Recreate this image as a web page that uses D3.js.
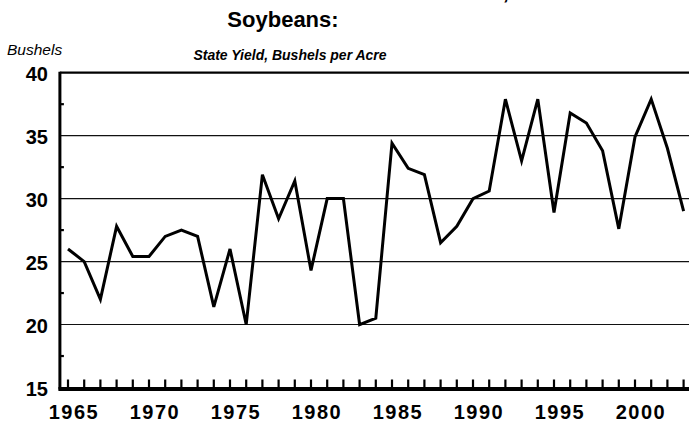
<!DOCTYPE html>
<html>
<head>
<meta charset="utf-8">
<script src="https://cdn.jsdelivr.net/npm/d3@7"></script>
<style>
  body { margin: 0; background: #fff; }
  svg { display: block; }
</style>
</head>
<body>
<script>
"use strict";

// yield per year, bushels per acre
const years = d3.range(1965, 2004);
const yieldVals = [26, 25, 22, 27.8, 25.4, 25.4, 27, 27.5, 27, 21.4,
                   26, 20, 31.9, 28.4, 31.4, 24.3, 30, 30, 20, 20.5,
                   34.4, 32.4, 31.9, 26.5, 27.8, 30, 30.6, 37.9, 33, 37.9,
                   28.9, 36.8, 36, 33.8, 27.6, 34.9, 37.9, 34, 29];
const yTicks = [15, 20, 25, 30, 35, 40];
const yGrid = [20, 25, 30, 35];
const yMinor = [17.5, 22.5, 27.5, 32.5, 37.5];
const xLabels = [1965, 1970, 1975, 1980, 1985, 1990, 1995, 2000];

const width = 689, height = 426;
const font = "'Liberation Sans', Arial, sans-serif";

const svg = d3.select("body").append("svg")
    .attr("width", width).attr("height", height);

const xScale = d3.scaleLinear().domain([1964.5, 2003]).range([59.9, 683.6]);
const yScale = d3.scaleLinear().domain([15, 40]).range([387.5, 72.7]);
const x0 = xScale(1964.5), xEnd = 700;

// titles (first line runs off the top edge, as in the source)
svg.append("text")
    .attr("x", 283).attr("y", -1)
    .attr("text-anchor", "middle")
    .style("font", "bold 22px " + font)
    .text("Nebraska Harvested Acres and Production,");
svg.append("text")
    .attr("x", 283).attr("y", 27)
    .attr("text-anchor", "middle")
    .style("font", "bold 22px " + font)
    .text("Soybeans:");
svg.append("text")
    .attr("x", 290).attr("y", 60)
    .attr("text-anchor", "middle")
    .style("font", "italic bold 14px " + font)
    .text("State Yield, Bushels per Acre");
svg.append("text")
    .attr("x", 7).attr("y", 55)
    .style("font", "italic 15.5px " + font)
    .text("Bushels");

// gridlines
svg.append("g").selectAll("line")
    .data(yGrid).enter().append("line")
    .attr("x1", x0).attr("x2", xEnd)
    .attr("y1", d => yScale(d)).attr("y2", d => yScale(d))
    .attr("stroke", "#111").attr("stroke-width", 1.1);

// top border
svg.append("line")
    .attr("x1", x0).attr("x2", xEnd)
    .attr("y1", yScale(40)).attr("y2", yScale(40))
    .attr("stroke", "#000").attr("stroke-width", 2.2);

// left axis
svg.append("line")
    .attr("x1", x0).attr("x2", x0)
    .attr("y1", yScale(40) - 1).attr("y2", yScale(15) + 2)
    .attr("stroke", "#000").attr("stroke-width", 3);
svg.append("g").selectAll("line")
    .data(yMinor).enter().append("line")
    .attr("x1", x0).attr("x2", x0 + 4)
    .attr("y1", d => yScale(d)).attr("y2", d => yScale(d))
    .attr("stroke", "#000").attr("stroke-width", 2.2);
svg.append("g").selectAll("text")
    .data(yTicks).enter().append("text")
    .attr("x", 48).attr("y", d => yScale(d) + 8)
    .attr("text-anchor", "end")
    .style("font", "bold 20px " + font)
    .text(d => d);

// bottom axis with year ticks pointing up
svg.append("line")
    .attr("x1", x0 - 1.5).attr("x2", xEnd)
    .attr("y1", yScale(15) + 1.5).attr("y2", yScale(15) + 1.5)
    .attr("stroke", "#000").attr("stroke-width", 4);
svg.append("g").selectAll("line")
    .data(years).enter().append("line")
    .attr("x1", d => xScale(d)).attr("x2", d => xScale(d))
    .attr("y1", yScale(15)).attr("y2", yScale(15) - 8)
    .attr("stroke", "#000").attr("stroke-width", 2.2);
svg.append("g").selectAll("text")
    .data(xLabels).enter().append("text")
    .attr("x", d => xScale(d) + 6).attr("y", 419)
    .attr("text-anchor", "middle")
    .style("font", "bold 20px " + font)
    .style("letter-spacing", "1.5px")
    .text(d => d);

// yield line
const line = d3.line()
    .x((d, i) => xScale(years[i]))
    .y(d => yScale(d));
svg.append("path")
    .datum(yieldVals)
    .attr("d", line)
    .attr("fill", "none")
    .attr("stroke", "#000")
    .attr("stroke-width", 3);
</script>
</body>
</html>
